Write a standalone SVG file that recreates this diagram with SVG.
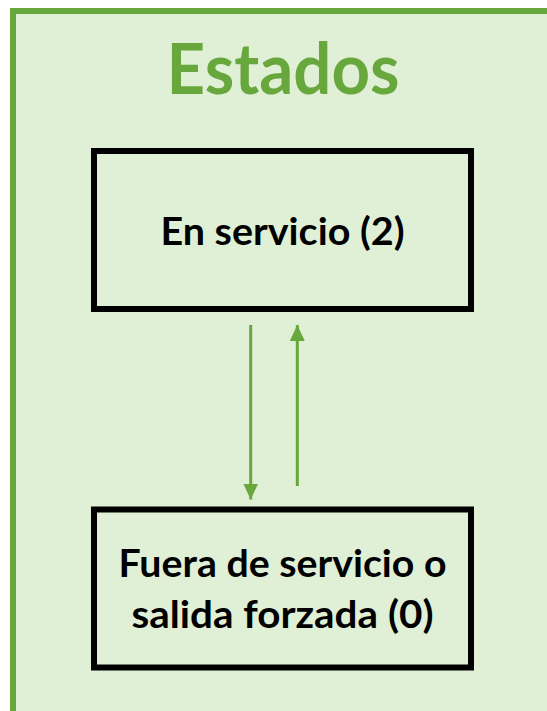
<svg xmlns="http://www.w3.org/2000/svg" width="547" height="711" viewBox="0 0 547 711">
  <defs>
    <style>
      .frame { fill: #E0F0D6; stroke: #68A73C; stroke-width: 6; }
      .box { fill: none; stroke: #000000; stroke-width: 6; }
      .title { font-family: Lato, "Liberation Sans", sans-serif; font-weight: bold; font-size: 70px; fill: #68A73C; text-anchor: middle; }
      .label { font-family: Lato, "Liberation Sans", sans-serif; font-weight: bold; font-size: 38px; fill: #000000; text-anchor: middle; }
      .conn { stroke: #68A73C; stroke-width: 3; fill: none; }
    </style>
    <marker id="arrow" viewBox="0 0 16 15" refX="16" refY="7.5" markerWidth="16" markerHeight="15" markerUnits="userSpaceOnUse" orient="auto">
      <path d="M0,0 L16,7.5 L0,15 Z" fill="#68A73C"/>
    </marker>
  </defs>

  <rect x="0" y="0" width="547" height="711" fill="#FFFFFF"/>
  <g id="frame">
    <rect class="frame" x="13" y="11" width="560" height="730"/>
    <text class="title" x="283" y="94" textLength="233" lengthAdjust="spacingAndGlyphs">Estados</text>
  </g>

  <g id="node-en-servicio">
    <rect class="box" x="94" y="151" width="377" height="158"/>
    <text class="label" x="282.5" y="245" textLength="244" lengthAdjust="spacingAndGlyphs">En servicio (2)</text>
  </g>

  <g id="node-fuera-servicio">
    <rect class="box" x="94" y="509.5" width="377" height="158"/>
    <text class="label" x="282.5" y="577" textLength="328" lengthAdjust="spacingAndGlyphs">Fuera de servicio o</text>
    <text class="label" x="282.5" y="628" textLength="302" lengthAdjust="spacingAndGlyphs">salida forzada (0)</text>
  </g>

  <g id="connectors">
    <line class="conn" x1="250.7" y1="325" x2="250.7" y2="499.5" marker-end="url(#arrow)"/>
    <line class="conn" x1="297.3" y1="486" x2="297.3" y2="325" marker-end="url(#arrow)"/>
  </g>
</svg>
